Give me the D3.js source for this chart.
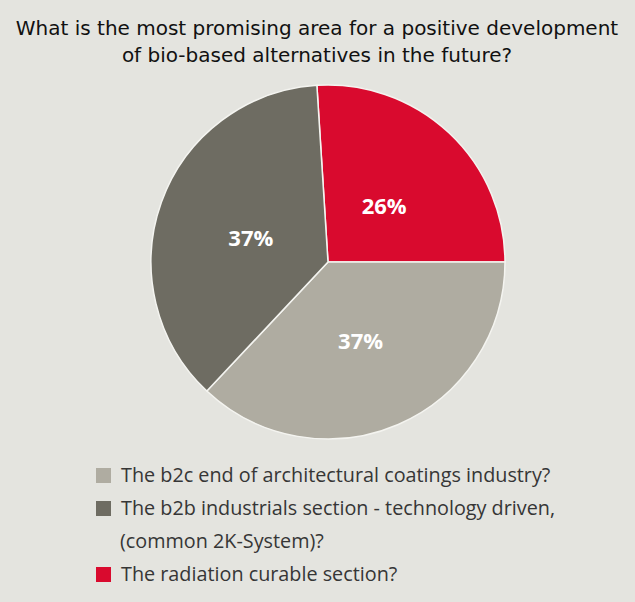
<!DOCTYPE html>
<html><head><meta charset="utf-8">
<script src="https://cdn.jsdelivr.net/npm/d3@7"></script>
<style>html,body{margin:0;padding:0;background:#e4e4df;}svg{display:block;}</style>
</head><body>
<svg id="chart" width="635" height="602"></svg>
<script>
const titleLines = ["What is the most promising area for a positive development", "of bio-based alternatives in the future?"];
const categories = ["The radiation curable section?", "The b2c end of architectural coatings industry?", "The b2b industrials section - technology driven, (common 2K-System)?"];
const values = [26, 37, 37];
const colors = ["#d90a2e", "#afaca1", "#6e6c62"];
const legendOrder = [1, 2, 0];
const legendLines = [["The b2c end of architectural coatings industry?"], ["The b2b industrials section - technology driven,", "(common 2K-System)?"], ["The radiation curable section?"]];

const svg = d3.select("#chart");
svg.append("rect").attr("width", 635).attr("height", 602).attr("fill", "#e4e4df");

const title = svg.append("g");
title.selectAll("text").data(titleLines).join("text")
  .attr("x", 317).attr("y", (d, i) => 35 + i * 27)
  .attr("text-anchor", "middle")
  .attr("font-family", "DejaVu Sans, sans-serif")
  .attr("font-size", 20)
  .attr("fill", "#111111")
  .text(d => d);

const cx = 328, cy = 262, r = 177;
const total = d3.sum(values);
const start = Math.PI / 2 - (values[0] / total) * 2 * Math.PI;
const pie = d3.pie().sort(null).value(d => d).startAngle(start).endAngle(start + 2 * Math.PI);
const arcs = pie(values);
const arc = d3.arc().innerRadius(0).outerRadius(r);
const labelArc = d3.arc().innerRadius(82).outerRadius(82);

const g = svg.append("g").attr("transform", `translate(${cx},${cy})`);
g.selectAll("path").data(arcs).join("path")
  .attr("d", arc)
  .attr("fill", (d, i) => colors[i])
  .attr("stroke", "#f4f4f0").attr("stroke-width", 1.5);

g.selectAll("text.lbl").data(arcs).join("text").attr("class", "lbl")
  .attr("transform", d => { const c = labelArc.centroid(d); return `translate(${c[0]},${c[1] + 12})`; })
  .attr("text-anchor", "middle")
  .attr("font-family", "Open Sans, sans-serif")
  .attr("font-weight", "bold")
  .attr("font-size", 22)
  .attr("fill", "#ffffff")
  .text(d => Math.round(d.data / total * 100) + "%");

const leg = svg.append("g");
let row = 0;
legendOrder.forEach((ci, k) => {
  const y0 = 482 + row * 33;
  leg.append("rect").attr("x", 96).attr("y", y0 - 14).attr("width", 15).attr("height", 15).attr("fill", colors[ci]);
  legendLines[k].forEach((line, j) => {
    leg.append("text").attr("x", j === 0 ? 121 : 120).attr("y", y0 + j * 33)
      .attr("font-family", "Open Sans, sans-serif").attr("font-size", 19.8)
      .attr("fill", "#363636").text(line);
  });
  row += legendLines[k].length;
});
</script>
</body></html>
